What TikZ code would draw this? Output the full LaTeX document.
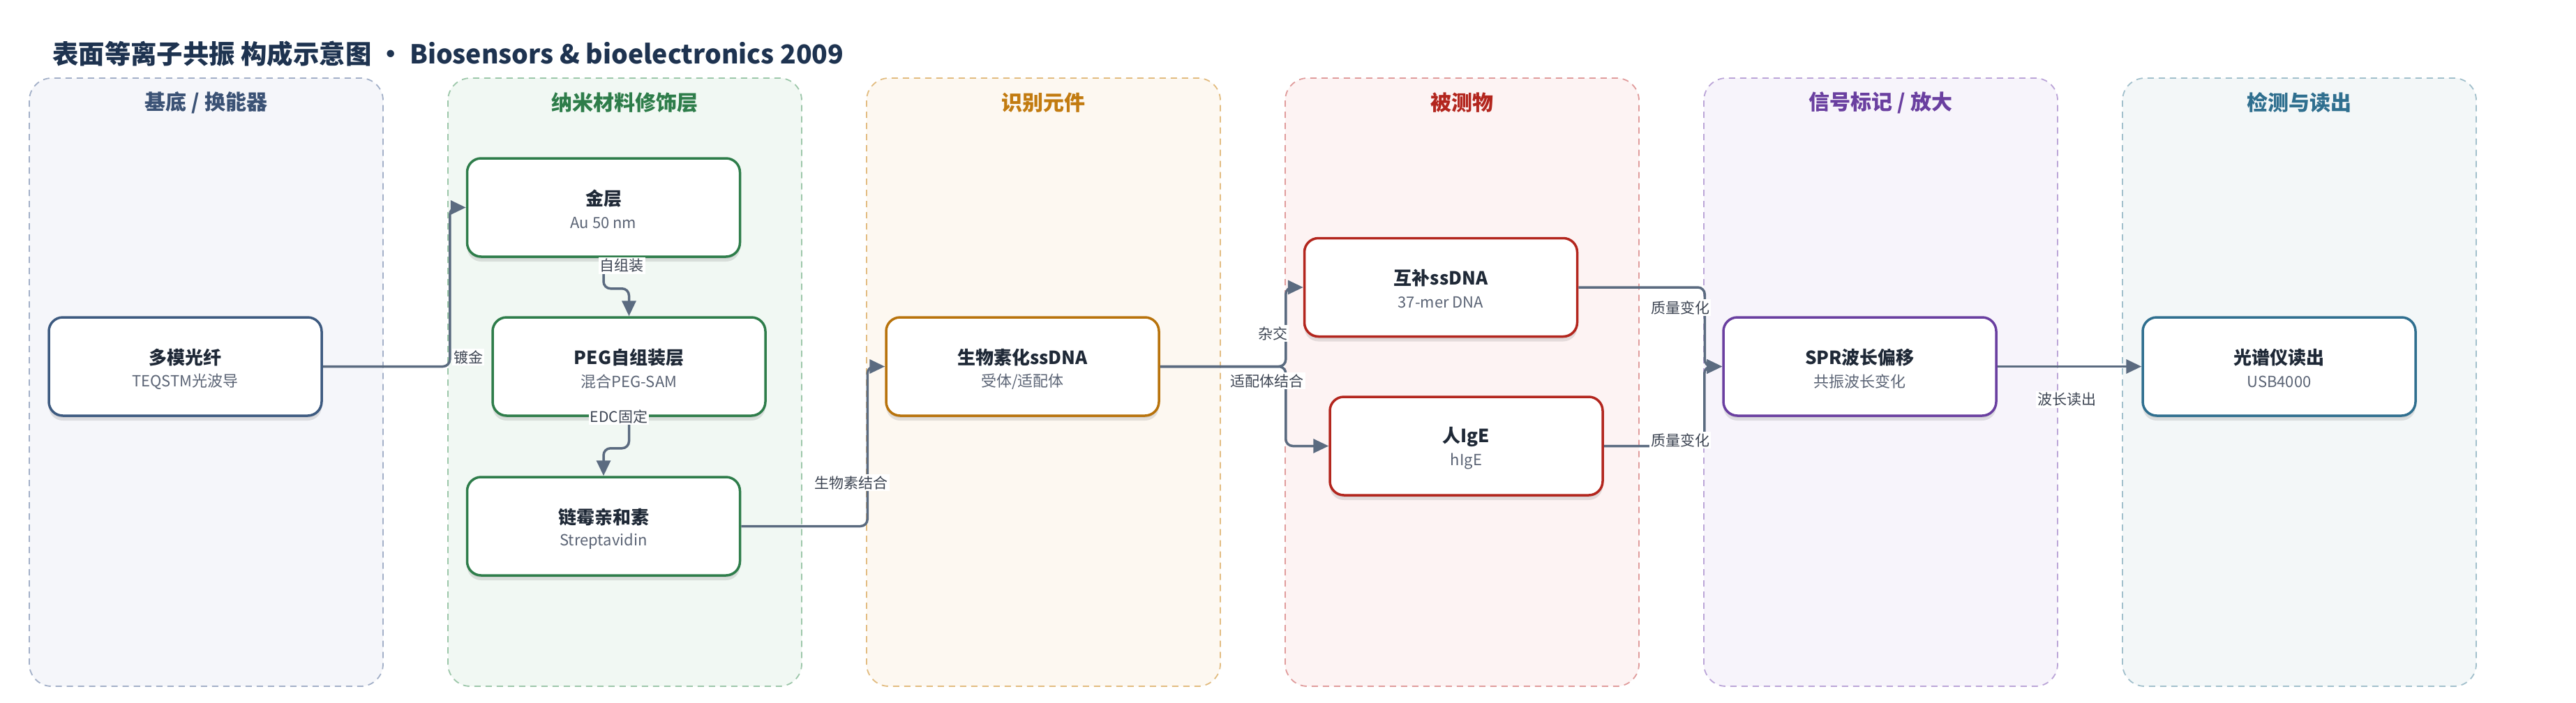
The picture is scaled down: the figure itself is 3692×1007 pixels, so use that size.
\documentclass[tikz,border=0pt]{standalone}
\usepackage{fontspec}
\setmainfont{Noto Sans CJK SC}
\usetikzlibrary{arrows.meta,shadows,calc}
\definecolor{laneFa}{HTML}{F5F6FA}\definecolor{laneBa}{HTML}{A3B0C8}\definecolor{laneHa}{HTML}{3B5275}\definecolor{boxCa}{HTML}{3D5A80}
\definecolor{laneFb}{HTML}{F1F8F3}\definecolor{laneBb}{HTML}{9DC7AA}\definecolor{laneHb}{HTML}{2E7D4A}\definecolor{boxCb}{HTML}{2E7D4A}
\definecolor{laneFc}{HTML}{FDF8F1}\definecolor{laneBc}{HTML}{E2BC80}\definecolor{laneHc}{HTML}{C27B10}\definecolor{boxCc}{HTML}{B8730C}
\definecolor{laneFd}{HTML}{FDF3F3}\definecolor{laneBd}{HTML}{E09C9C}\definecolor{laneHd}{HTML}{B3261E}\definecolor{boxCd}{HTML}{B3261E}
\definecolor{laneFe}{HTML}{F7F4FB}\definecolor{laneBe}{HTML}{BBA5D8}\definecolor{laneHe}{HTML}{6A3FA0}\definecolor{boxCe}{HTML}{6A3FA0}
\definecolor{laneFf}{HTML}{F3F7F8}\definecolor{laneBf}{HTML}{A2C0CC}\definecolor{laneHf}{HTML}{2F6F8F}\definecolor{boxCf}{HTML}{2F6F8F}
\definecolor{titleC}{HTML}{1E3350}
\definecolor{ttlC}{HTML}{1F2937}
\definecolor{subC}{HTML}{5B6475}
\definecolor{connC}{HTML}{5B6B80}
\definecolor{lblC}{HTML}{3C4452}
\tikzset{
  lanebox/.style={rounded corners=32pt, line width=1.8pt, dash pattern=on 9pt off 7pt},
  lanehead/.style={font=\fontsize{30}{34}\selectfont\bfseries, anchor=center},
  procbox/.style={draw=#1, line width=3.5pt, fill=white, rounded corners=20pt,
    minimum width=391pt, minimum height=141pt, inner sep=0pt,
    drop shadow={opacity=0.10, shadow xshift=0pt, shadow yshift=-7pt, fill=black},
    drop shadow={opacity=0.06, shadow xshift=0pt, shadow yshift=-3pt, fill=black}},
  ttl/.style={font=\fontsize{26}{30}\selectfont\bfseries, text=ttlC, inner sep=0pt},
  subt/.style={font=\fontsize{22}{26}\selectfont, text=subC, inner sep=0pt},
  conn/.style={draw=connC, line width=3.5pt, rounded corners=10pt, -{Triangle[length=22pt,width=20pt]}},
  elabel/.style={fill=white, text=lblC, font=\fontsize{21}{24}\selectfont, inner sep=2pt}
}
\newcommand\mkbox[6]{%
  \node[procbox=#4] (#1) at (#2,#3) {};
  \node[ttl] (#1-t) at ([yshift=13pt]#1.center) {#5};
  \node[subt] (#1-s) at ([yshift=-22pt]#1.center) {#6};
}
\begin{document}
\begin{tikzpicture}[x=1pt,y=-1pt]
\useasboundingbox (0,0) rectangle (3692,1007);
\fill[white] (0,0) rectangle (3692,1007);
% title
\node[anchor=west, text=titleC, font=\fontsize{37.4}{44}\selectfont\bfseries, inner sep=0pt] (title) at (75,77) {表面等离子共振 构成示意图 • Biosensors \& bioelectronics 2009};
% lanes
\foreach \i/\s/\h in {0/a/{基底 / 换能器}, 1/b/{纳米材料修饰层}, 2/c/{识别元件}, 3/d/{被测物}, 4/e/{信号标记 / 放大}, 5/f/{检测与读出}}{
  \draw[lanebox, fill=laneF\s, draw=laneB\s] (42+600*\i,112) rectangle (549+600*\i,984);
  \node[lanehead, text=laneH\s] (lane\s) at (295.5+600*\i,147) {\h};
}
% boxes
\mkbox{fiber}{265.5}{525.5}{boxCa}{多模光纤}{TEQSTM光波导}
\mkbox{gold}{865}{297.5}{boxCb}{金层}{Au 50 nm}
\mkbox{peg}{901.5}{525.5}{boxCb}{PEG自组装层}{混合PEG-SAM}
\mkbox{strep}{865}{754.5}{boxCb}{链霉亲和素}{Streptavidin}
\mkbox{bio}{1465.5}{525.5}{boxCc}{生物素化ssDNA}{受体/适配体}
\mkbox{comp}{2065}{412}{boxCd}{互补ssDNA}{37-mer DNA}
\mkbox{ige}{2101.5}{639.5}{boxCd}{人IgE}{hIgE}
\mkbox{spr}{2665.5}{525.5}{boxCe}{SPR波长偏移}{共振波长变化}
\mkbox{spec}{3266.5}{525.5}{boxCf}{光谱仪读出}{USB4000}
% connectors
\draw[conn] (fiber.east) -- ++(182,0) |- (gold.west);
\draw[conn] (gold.south) -- ++(0,44) -| (peg.north);
\draw[conn] (peg.south) -- ++(0,45) -| (strep.north);
\draw[conn] (strep.east) -- ++(181,0) |- (bio.west);
\draw[conn] (bio.east) -- ++(180,0) |- (comp.west);
\draw[conn] (bio.east) -- ++(180,0) |- (ige.west);
\draw[conn] (comp.east) -- ++(181,0) |- (spr.west);
\draw[conn] (ige.east) -- ++(144,0) |- (spr.west);
\draw[conn] (spr.east) -- (spec.west);
% edge labels
\node[elabel] (l1) at (671,512) {镀金};
\node[elabel] (l2) at (891,381) {自组装};
\node[elabel] (l3) at (887,597) {EDC固定};
\node[elabel] (l4) at (1220,692) {生物素结合};
\node[elabel] (l5) at (1824,478) {杂交};
\node[elabel] (l6) at (1816,546) {适配体结合};
\node[elabel] (l7) at (2408,441) {质量变化};
\node[elabel] (l8) at (2408,631) {质量变化};
\node[elabel] (l9) at (2962,573) {波长读出};
\end{tikzpicture}
\end{document}
